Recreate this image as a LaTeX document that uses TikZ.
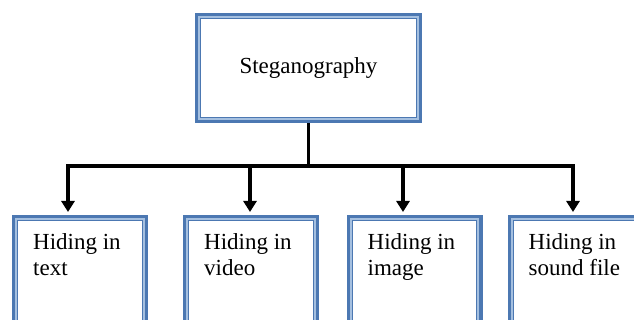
\documentclass[tikz,border=0pt]{standalone}
\usepackage{fontspec}
\setmainfont{Liberation Serif}
\usetikzlibrary{arrows.meta}
\definecolor{frameblue}{RGB}{76,120,178}
\definecolor{framelight}{RGB}{165,192,224}

\begin{document}
\begin{tikzpicture}[x=1pt,y=-1pt,font=\fontsize{23}{26}\selectfont,
  frame/.style={draw=frameblue,line width=6pt,fill=white,inner sep=0pt},
  leaf/.style={frame,minimum width=130pt,minimum height=130pt},
  leaftext/.style={anchor=north west,align=left,inner sep=0pt},
  conn/.style={line width=3.5pt,black},
  arr/.style={conn,-{Triangle[width=13pt,length=11pt]}}]
  \useasboundingbox (0,0) rectangle (634,320);
  \clip (0,0) rectangle (634,320);
  % root and leaves
  \node[frame,minimum width=221pt,minimum height=104pt] (steg) at (308.5,68) {Steganography};
  \foreach \n/\x/\t in {txt/80/{Hiding in\\text},vid/251/{Hiding in\\video},
                         img/414.5/{Hiding in\\image},snd/575.5/{Hiding in\\sound file}}{
    \node[leaf] (\n) at (\x,283) {};
    \node[leaftext] (\n-l) at ([xshift=21pt,yshift=-18pt]\n.north west) {\t};
  }
  % inner frame lines
  \foreach \n in {steg,txt,vid,img,snd}{
    \draw[framelight,line width=2pt] ([xshift=4.2pt,yshift=-4.2pt]\n.north west) rectangle ([xshift=-4.2pt,yshift=4.2pt]\n.south east);
    \draw[frameblue,line width=0.8pt] ([xshift=5.8pt,yshift=-5.8pt]\n.north west) rectangle ([xshift=-5.8pt,yshift=5.8pt]\n.south east);
  }
  % connectors
  \coordinate (hub) at (308.5,166);
  \draw[conn] (steg.south) -- (hub);
  \foreach \n/\s in {txt/-12,vid/-1,img/-11.5,snd/-2.5}
    \draw[arr] (hub) -| ([xshift=\s pt,yshift=3pt]\n.north);
\end{tikzpicture}
\end{document}
